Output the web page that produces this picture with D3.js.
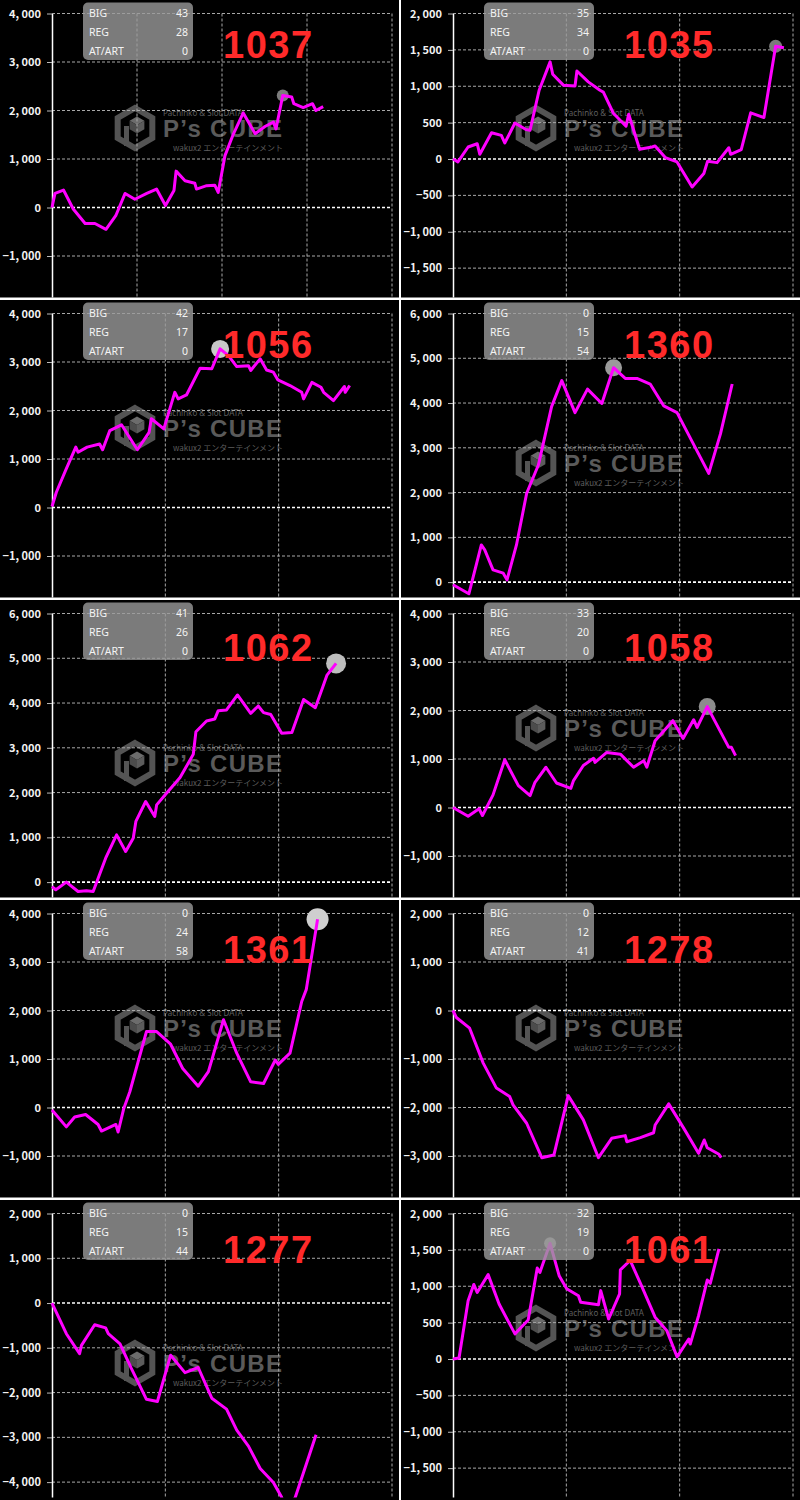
<!DOCTYPE html>
<html>
<head>
<meta charset="utf-8">
<title>スランプグラフ</title>
<script src="https://d3js.org/d3.v7.min.js"></script>
<style>
  body { margin: 0; background: #000; }
  svg { display: block; }
</style>
</head>
<body>
<script>
// 台番号と大当たり回数
var machines = ['1037', '1035', '1056', '1360', '1062', '1058', '1361', '1278', '1277', '1061'];
var bigCounts = [43, 35, 42, 0, 41, 33, 0, 0, 0, 32];
var regCounts = [28, 34, 17, 15, 26, 20, 24, 12, 15, 19];
var artCounts = [0, 0, 0, 54, 0, 0, 58, 41, 44, 0];

// 縦軸 (差枚) の範囲と目盛り間隔
var yMins = [-2000, -2000, -2000, -500, -500, -2000, -2000, -4000, -4500, -2000];
var yMaxs = [4000, 2000, 4000, 6000, 6000, 4000, 4000, 2000, 2000, 2000];
var ySteps = [1000, 500, 1000, 1000, 1000, 1000, 1000, 1000, 1000, 500];
// 横軸 (ゲーム数) の範囲とグリッド間隔
var xMaxs = [8000, 9000, 9000, 9000, 9000, 9000, 9000, 9000, 9000, 9000];
var xSteps = [2000, 3000, 3000, 3000, 3000, 3000, 3000, 3000, 3000, 3000];

// 各台のゲーム数 / 差枚
var g1037 = [0, 70, 270, 500, 780, 1010, 1270, 1500, 1720, 1950, 2230, 2460, 2670, 2870, 2920, 3130, 3360, 3400, 3640, 3830, 3910, 4070, 4270, 4500, 4780, 5010, 5210, 5270, 5430, 5640, 5690, 5910, 6130, 6210, 6380];
var v1037 = [0, 290, 360, -30, -330, -330, -450, -170, 290, 170, 290, 380, 40, 350, 750, 550, 500, 380, 450, 460, 310, 1070, 1520, 1950, 1520, 1670, 1760, 1620, 2310, 2280, 2140, 2060, 2140, 2000, 2080];

var g1035 = [0, 130, 400, 640, 710, 1020, 1280, 1370, 1640, 1930, 2040, 2280, 2570, 2640, 2920, 3230, 3280, 3580, 3890, 3980, 4250, 4580, 4650, 4940, 5270, 5350, 5620, 5930, 6330, 6640, 6740, 6990, 7300, 7350, 7630, 7880, 8230, 8540, 8760];
var v1035 = [0, -40, 165, 210, 65, 360, 325, 220, 495, 405, 395, 945, 1335, 1165, 1015, 1005, 1210, 1060, 945, 920, 625, 450, 615, 135, 165, 180, 20, -40, -385, -200, -30, -50, 155, 65, 130, 635, 570, 1550, 1530];

var g1056 = [0, 115, 380, 630, 690, 930, 1260, 1340, 1530, 1840, 2260, 2570, 2630, 2960, 3250, 3340, 3560, 3920, 4230, 4450, 4670, 4890, 5200, 5260, 5510, 5680, 5860, 5980, 6300, 6610, 6660, 6880, 7120, 7190, 7450, 7740, 7760, 7880];
var v1056 = [20, 315, 800, 1245, 1140, 1245, 1310, 1190, 1585, 1705, 1190, 1550, 1830, 1620, 2375, 2240, 2320, 2870, 2860, 3270, 3130, 2905, 2925, 2825, 3065, 2835, 2790, 2630, 2515, 2375, 2240, 2580, 2480, 2375, 2205, 2495, 2375, 2515];

var g1360 = [0, 420, 750, 840, 1060, 1330, 1430, 1680, 1950, 2260, 2610, 2880, 3230, 3560, 3940, 4250, 4560, 4870, 5220, 5580, 5930, 6770, 7080, 7390];
var v1360 = [-60, -260, 830, 720, 275, 200, 50, 830, 1985, 2615, 3920, 4500, 3785, 4310, 3990, 4790, 4550, 4550, 4425, 3935, 3785, 2430, 3310, 4425];

var g1062 = [0, 100, 380, 690, 910, 1090, 1420, 1710, 1950, 2150, 2220, 2480, 2720, 2770, 3030, 3300, 3390, 3740, 3810, 4090, 4310, 4400, 4620, 4910, 5260, 5460, 5600, 5790, 6080, 6350, 6660, 6970, 7170, 7280, 7520];
var v1062 = [-100, -170, 0, -210, -195, -210, 535, 1055, 685, 980, 1355, 1800, 1465, 1725, 1985, 2245, 2335, 2855, 3360, 3600, 3645, 3830, 3845, 4180, 3770, 3935, 3785, 3745, 3325, 3340, 4080, 3895, 4365, 4625, 4885];

var g1058 = [0, 400, 690, 780, 1060, 1370, 1730, 2040, 2170, 2460, 2740, 3120, 3190, 3450, 3720, 3760, 4070, 4430, 4780, 5050, 5130, 5350, 5820, 6090, 6370, 6460, 6730, 6950, 7300, 7370, 7480];
var v1058 = [0, -180, -25, -165, 260, 985, 450, 245, 520, 830, 505, 395, 555, 865, 1015, 930, 1135, 1100, 830, 965, 830, 1375, 1790, 1425, 1810, 1650, 2080, 1755, 1240, 1240, 1070];

var g1361 = [0, 380, 600, 890, 1220, 1310, 1690, 1750, 1900, 2060, 2500, 2770, 3140, 3460, 3870, 4140, 4540, 4890, 5260, 5600, 5910, 5990, 6300, 6610, 6730, 7030];
var v1361 = [-50, -400, -195, -145, -350, -485, -350, -505, -20, 325, 1565, 1565, 1305, 805, 440, 740, 1810, 1120, 530, 495, 980, 890, 1120, 2185, 2430, 3880];

var g1278 = [0, 90, 440, 800, 1150, 1500, 1590, 1950, 2350, 2670, 3050, 3450, 3850, 4200, 4560, 4600, 4960, 5310, 5350, 5710, 6110, 6500, 6650, 6730, 7040, 7100];
var v1278 = [0, -145, -365, -1085, -1600, -1775, -1945, -2325, -3035, -2980, -1755, -2255, -3035, -2635, -2580, -2705, -2620, -2520, -2360, -1925, -2430, -2945, -2670, -2830, -2965, -3035];

var g1277 = [0, 380, 730, 780, 1130, 1420, 1490, 1800, 2100, 2500, 2790, 3140, 3520, 3870, 4230, 4620, 4890, 5200, 5510, 5860, 6080, 6200, 6440, 6990];
var v1277 = [0, -685, -1130, -945, -485, -555, -685, -910, -1460, -2150, -2200, -1165, -1555, -1440, -2125, -2370, -2840, -3195, -3695, -4010, -4340, -4700, -4340, -2940];

var g1061 = [0, 160, 400, 550, 640, 930, 1220, 1640, 1990, 2230, 2300, 2570, 2810, 3010, 3320, 3380, 3850, 3910, 4120, 4410, 4430, 4690, 5000, 5350, 5660, 5930, 6240, 6280, 6500, 6730, 6810, 7040];
var v1061 = [0, 15, 800, 1025, 915, 1160, 755, 345, 535, 1250, 1190, 1590, 1145, 965, 870, 780, 745, 940, 550, 895, 1225, 1355, 995, 575, 390, 30, 275, 205, 595, 1085, 1040, 1515];

var gamesList = [g1037, g1035, g1056, g1360, g1062, g1058, g1361, g1278, g1277, g1061];
var diffList = [v1037, v1035, v1056, v1360, v1062, v1058, v1361, v1278, v1277, v1061];

// 見た目の調整 (データではない)
var wmShift = [0, 0, 0, 35, 35, 0, 0, 0, 35, 0];
var markerR = [6, 6.5, 9, 8.5, 10, 8.5, 11, 0, 0, 6];
var markerFill = ['#7c7c7c', '#7a7a7a', '#c8c8c8', '#9a9a9a', '#bdbdbd', '#8c8c8c', '#cfcfcf', '#888', '#888', '#8a8a8a'];
var labelDy = [0, 0, 3, 5, 5];

var width = 800, height = 1500;
var panelW = 399, panelH = 297.5;
var plotL = 52, plotR = 392, plotT = 13.5, plotB = 304.5;

var svg = d3.select('body').append('svg')
  .attr('width', width)
  .attr('height', height);

svg.append('rect').attr('width', width).attr('height', height).attr('fill', '#000');

var fmt = function(v) { return d3.format(',')(v).replace(',', ', '); };

function drawWatermark(p, dy) {
  var w = p.append('g').attr('transform', 'translate(0,' + dy + ')');
  var cx = 135, cy = 128, r = 20;
  var hex = d3.range(6).map(function(k) {
    var a = Math.PI / 180 * (60 * k - 90);
    return [cx + r * Math.cos(a), cy + r * Math.sin(a)];
  });
  w.append('path').attr('d', d3.line()(hex) + 'Z')
    .attr('fill', 'none').attr('stroke', '#545454').attr('stroke-width', 6);
  var c = [cx + 2, cy - 3], s = 8.5, h = s * Math.cos(Math.PI / 6);
  w.append('path').attr('d', d3.line()([[c[0], c[1] - s], [c[0] + h, c[1] - s / 2], c, [c[0] - h, c[1] - s / 2]]) + 'Z').attr('fill', '#6c6c6c');
  w.append('path').attr('d', d3.line()([[c[0] - h, c[1] - s / 2], c, [c[0], c[1] + s], [c[0] - h, c[1] + s / 2]]) + 'Z').attr('fill', '#4c4c4c');
  w.append('path').attr('d', d3.line()([[c[0] + h, c[1] - s / 2], c, [c[0], c[1] + s], [c[0] + h, c[1] + s / 2]]) + 'Z').attr('fill', '#5c5c5c');
  w.append('rect').attr('x', cx - 11).attr('y', cy - 2).attr('width', 5).attr('height', 20).attr('fill', '#545454');
  w.append('text').attr('x', 163).attr('y', 137)
    .attr('font-family', 'Liberation Sans, Arial, sans-serif').attr('font-weight', 'bold')
    .attr('font-size', 24).attr('letter-spacing', 1.3).attr('fill', '#5a5a5a')
    .text('P’s CUBE');
  w.append('text').attr('x', 163).attr('y', 116)
    .attr('font-family', 'Noto Sans, sans-serif').attr('font-size', 8).attr('fill', '#5e5e5e')
    .text('Pachinko & Slot DATA');
  w.append('text').attr('x', 283).attr('y', 151).attr('text-anchor', 'end')
    .attr('font-family', 'Noto Sans CJK JP, sans-serif').attr('font-size', 8).attr('fill', '#5e5e5e')
    .text('wakux2 エンターテインメント');
}

machines.forEach(function(name, i) {
  var col = i % 2, row = Math.floor(i / 2);
  var g = svg.append('g')
    .attr('transform', 'translate(' + (col * 401) + ',' + (row * 300) + ')');

  g.append('clipPath').attr('id', 'clip' + i)
    .append('rect').attr('width', panelW).attr('height', panelH);
  var p = g.append('g').attr('clip-path', 'url(#clip' + i + ')');

  var x = d3.scaleLinear().domain([0, xMaxs[i]]).range([plotL, plotR]);
  var y = d3.scaleLinear().domain([yMins[i], yMaxs[i]]).range([plotB, plotT]);

  // パネル内に収まる目盛りだけ
  var yTicks = d3.range(Math.ceil(yMins[i] / ySteps[i]) * ySteps[i], yMaxs[i] + 1, ySteps[i])
    .filter(function(d) { return y(d) < panelH - 8; });
  var xTicks = d3.range(xSteps[i], xMaxs[i] + 1, xSteps[i]);

  drawWatermark(p, wmShift[i]);

  // グリッド
  p.append('g').selectAll('line').data(yTicks).enter().append('line')
    .attr('x1', plotL).attr('x2', plotR)
    .attr('y1', function(d) { return y(d); })
    .attr('y2', function(d) { return y(d); })
    .attr('stroke', function(d) { return d === 0 ? '#fff' : '#a8a8a8'; })
    .attr('stroke-width', function(d) { return d === 0 ? 1.6 : 1; })
    .attr('stroke-dasharray', '3,2');

  p.append('g').selectAll('line').data(xTicks).enter().append('line')
    .attr('x1', function(d) { return x(d); })
    .attr('x2', function(d) { return x(d); })
    .attr('y1', plotT).attr('y2', plotB)
    .attr('stroke', '#a8a8a8')
    .attr('stroke-dasharray', '3,2');

  // 縦軸
  var axis = p.append('g')
    .attr('transform', 'translate(' + plotL + ',0)')
    .call(d3.axisLeft(y).tickValues(yTicks).tickFormat(fmt).tickSize(5).tickSizeOuter(0).tickPadding(6));
  axis.select('.domain').attr('stroke', '#fff').attr('stroke-width', 1.5);
  axis.selectAll('.tick line').attr('stroke', '#bbb');
  axis.selectAll('.tick text')
    .attr('fill', '#f2f2f2')
    .attr('font-family', 'Noto Sans CJK JP, Noto Sans, sans-serif')
    .attr('font-weight', 'bold')
    .attr('font-size', 11);

  var pts = gamesList[i].map(function(gm, k) { return [gm, diffList[i][k]]; });

  // 最大値マーカー
  var top = d3.maxIndex(pts, function(d) { return d[1]; });
  if (top > 0) {
    p.append('circle')
      .attr('cx', x(pts[top][0])).attr('cy', y(pts[top][1]))
      .attr('r', markerR[i])
      .attr('fill', markerFill[i]);
  }

  // 差枚グラフ
  var line = d3.line()
    .x(function(d) { return x(d[0]); })
    .y(function(d) { return y(d[1]); });
  p.append('path')
    .datum(pts)
    .attr('d', line)
    .attr('fill', 'none')
    .attr('stroke', '#ff00ff')
    .attr('stroke-width', 3)
    .attr('stroke-linejoin', 'round');

  // 回数ボックス
  var box = p.append('g');
  box.append('rect')
    .attr('x', 83).attr('y', 2.5).attr('width', 110).attr('height', 57.5).attr('rx', 5)
    .attr('fill', '#9a9a9a').attr('opacity', 0.8);
  var rows = [['BIG', bigCounts[i]], ['REG', regCounts[i]], ['AT/ART', artCounts[i]]];
  rows.forEach(function(r, k) {
    box.append('text').attr('x', 89).attr('y', 16.5 + k * 19)
      .attr('font-family', 'Noto Sans, sans-serif').attr('font-size', 10.5).attr('fill', '#f4f4f4')
      .text(r[0]);
    box.append('text').attr('x', 188).attr('y', 16.5 + k * 19).attr('text-anchor', 'end')
      .attr('font-family', 'Noto Sans, sans-serif').attr('font-size', 10.5).attr('fill', '#f4f4f4')
      .text(r[1]);
  });

  // 台番号
  p.append('text')
    .attr('x', 223).attr('y', 58 + labelDy[row])
    .attr('font-family', 'Liberation Sans, Arial, sans-serif')
    .attr('font-weight', 'bold')
    .attr('font-size', 38)
    .attr('letter-spacing', 1.5)
    .attr('fill', '#ff2a2a')
    .text(name);
});

// 区切り線
svg.append('g').selectAll('rect').data(d3.range(1, 5)).enter().append('rect')
  .attr('x', 0).attr('y', function(d) { return d * 300 - 2.5; })
  .attr('width', width).attr('height', 2.5).attr('fill', '#fff');
svg.append('rect').attr('x', 399).attr('y', 0).attr('width', 2).attr('height', height).attr('fill', '#fff');
</script>
</body>
</html>
